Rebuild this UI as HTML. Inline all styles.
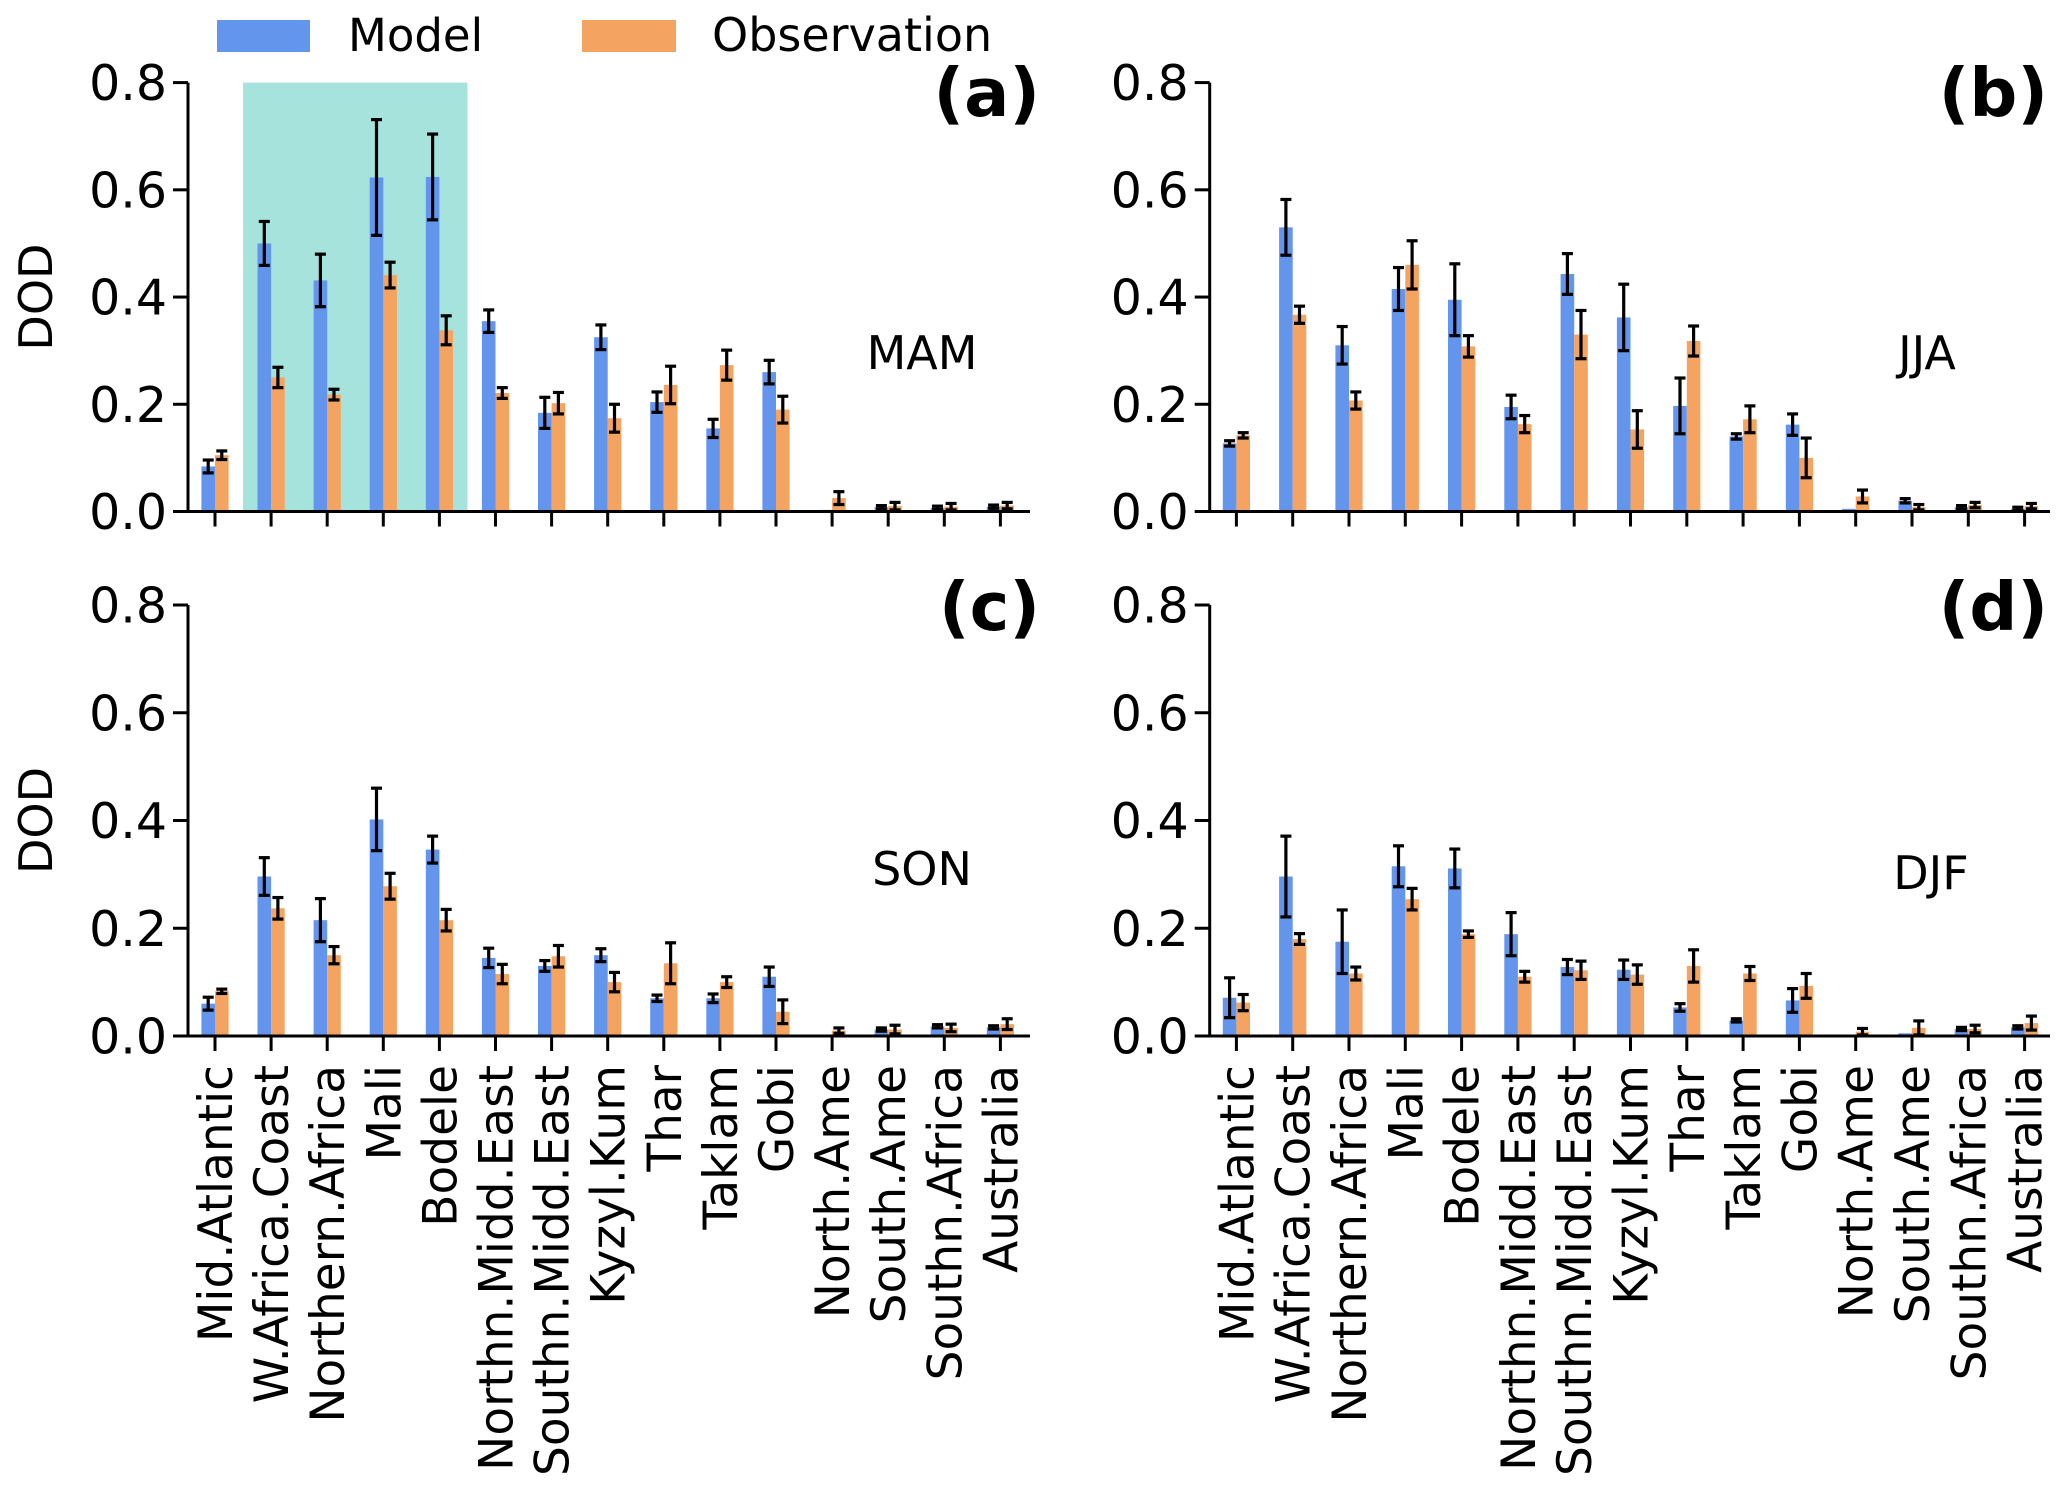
<!DOCTYPE html>
<html><head><meta charset="utf-8"><style>
html,body{margin:0;padding:0;background:#fff;}
svg{display:block;font-family:"DejaVu Sans","Liberation Sans",sans-serif;}
</style></head><body>
<svg id="chart" width="2067" height="1490" viewBox="0 0 2067 1490" xmlns="http://www.w3.org/2000/svg">
<g>
<rect x="217" y="20" width="93" height="32" fill="#6495ed"/>
<text x="348" y="51" font-size="45">Model</text>
<rect x="582" y="20" width="94" height="32" fill="#f4a460"/>
<text x="712" y="51" font-size="46">Observation</text>
</g>
</svg>
<script>
const categories = ["Mid.Atlantic","W.Africa.Coast","Northern.Africa","Mali","Bodele","Northn.Midd.East","Southn.Midd.East","Kyzyl.Kum","Thar","Taklam","Gobi","North.Ame","South.Ame","Southn.Africa","Australia"];
const yTicks = [0.0, 0.2, 0.4, 0.6, 0.8];
const yTickLabels = ["0.0","0.2","0.4","0.6","0.8"];
const seasons = ["MAM","JJA","SON","DJF"];
const panelLetters = ["(a)","(b)","(c)","(d)"];

const mamModel = [0.084,0.50,0.431,0.623,0.624,0.355,0.184,0.325,0.204,0.155,0.26,0.003,0.008,0.007,0.009];
const mamModelErr = [0.012,0.041,0.049,0.108,0.080,0.021,0.029,0.023,0.019,0.017,0.022,0,0.003,0.003,0.003];
const mamObs = [0.105,0.25,0.218,0.441,0.338,0.221,0.202,0.174,0.236,0.273,0.19,0.025,0.01,0.009,0.011];
const mamObsErr = [0.008,0.019,0.01,0.024,0.027,0.01,0.02,0.026,0.035,0.028,0.025,0.012,0.007,0.006,0.006];

const jjaModel = [0.127,0.53,0.31,0.415,0.395,0.195,0.443,0.362,0.197,0.14,0.162,0.005,0.02,0.008,0.005];
const jjaModelErr = [0.005,0.052,0.035,0.04,0.067,0.022,0.038,0.062,0.052,0.005,0.02,0,0.004,0.003,0.003];
const jjaObs = [0.142,0.367,0.207,0.46,0.308,0.163,0.33,0.153,0.318,0.172,0.1,0.028,0.008,0.012,0.01];
const jjaObsErr = [0.005,0.016,0.016,0.045,0.02,0.016,0.045,0.035,0.028,0.025,0.037,0.012,0.005,0.005,0.005];

const sonModel = [0.06,0.296,0.215,0.402,0.346,0.145,0.13,0.15,0.07,0.07,0.11,0.002,0.012,0.018,0.016];
const sonModelErr = [0.012,0.035,0.04,0.058,0.025,0.018,0.01,0.012,0.006,0.008,0.018,0,0.003,0.003,0.003];
const sonObs = [0.083,0.237,0.15,0.278,0.215,0.115,0.148,0.1,0.135,0.1,0.045,0.01,0.012,0.015,0.022];
const sonObsErr = [0.004,0.02,0.016,0.024,0.02,0.018,0.02,0.018,0.038,0.01,0.022,0.005,0.008,0.007,0.01];

const djfModel = [0.071,0.296,0.175,0.315,0.311,0.189,0.128,0.123,0.053,0.029,0.066,0.002,0.005,0.013,0.016];
const djfModelErr = [0.037,0.075,0.059,0.038,0.036,0.04,0.014,0.018,0.007,0.003,0.022,0,0,0.003,0.003];
const djfObs = [0.062,0.18,0.116,0.254,0.189,0.11,0.122,0.114,0.13,0.116,0.093,0.008,0.015,0.013,0.024];
const djfObsErr = [0.015,0.01,0.012,0.02,0.006,0.01,0.017,0.018,0.03,0.013,0.023,0.006,0.013,0.007,0.013];

const NS = "http://www.w3.org/2000/svg";
const svg = document.getElementById('chart');
function mk(tag, attrs, parent){ const e=document.createElementNS(NS,tag); for(const k in attrs) e.setAttribute(k,attrs[k]); (parent||svg).appendChild(e); return e; }

const panels = [
 {left:188, x0:215, step:56.1, right:1030, y0:511.5, y8:82.6, m:mamModel, me:mamModelErr, o:mamObs, oe:mamObsErr, lx:1040, ly:116, sx:922, sy:369, ylab:true, xlab:false, hi:true},
 {left:1209.7, x0:1236.4, step:56.3, right:2050, y0:511.5, y8:82.6, m:jjaModel, me:jjaModelErr, o:jjaObs, oe:jjaObsErr, lx:2048, ly:116, sx:1927, sy:369, ylab:false, xlab:false, hi:false},
 {left:188, x0:215, step:56.1, right:1030, y0:1036, y8:605, m:sonModel, me:sonModelErr, o:sonObs, oe:sonObsErr, lx:1040, ly:630, sx:922, sy:885, ylab:true, xlab:true, hi:false},
 {left:1209.7, x0:1236.4, step:56.3, right:2050, y0:1036, y8:605, m:djfModel, me:djfModelErr, o:djfObs, oe:djfObsErr, lx:2048, ly:630, sx:1931, sy:889, ylab:false, xlab:true, hi:false}
];
const BW = 13.6;
panels.forEach((p, pi) => {
  const g = mk('g', {});
  
  
  const y = v => p.y0 - (p.y0 - p.y8) * v / 0.8;
  const x = i => p.x0 + i * p.step;
  if (p.hi) {
    const r = mk('rect', {x:x(0.5), y:y(0.8), width:x(4.5)-x(0.5), height:y(0)-y(0.8), fill:'#a6e3dd'}, g);
    
    
  }
  categories.forEach((c, i) => {
    const b1 = mk('rect', {x:x(i)-BW, y:y(p.m[i]), width:BW, height:y(0)-y(p.m[i]), fill:'#6495ed'}, g);
    
    
    const b2 = mk('rect', {x:x(i), y:y(p.o[i]), width:BW, height:y(0)-y(p.o[i]), fill:'#f4a460'}, g);
    
    
  });
  categories.forEach((c, i) => {
    [[x(i)-BW/2, p.m[i], p.me[i]], [x(i)+BW/2, p.o[i], p.oe[i]]].forEach(([cx, v, e]) => {
      if (e <= 0) return;
      const eg = mk('g', {stroke:'#000', 'stroke-width':3.2}, g);
      
      
      mk('line', {x1:cx, x2:cx, y1:y(v-e), y2:y(v+e)}, eg);
      mk('line', {x1:cx-5.5, x2:cx+5.5, y1:y(v-e), y2:y(v-e)}, eg);
      mk('line', {x1:cx-5.5, x2:cx+5.5, y1:y(v+e), y2:y(v+e)}, eg);
    });
  });
  const ya = mk('line', {x1:p.left, x2:p.left, y1:y(0.8), y2:y(0)+1.5, stroke:'#000', 'stroke-width':3}, g);
  
  
  const xa = mk('line', {x1:p.left-1.5, x2:p.right, y1:y(0), y2:y(0), stroke:'#000', 'stroke-width':3}, g);
  
  
  yTicks.forEach((t, k) => {
    mk('line', {x1:p.left-15, x2:p.left, y1:y(t), y2:y(t), stroke:'#000', 'stroke-width':3}, g);
    const tl = mk('text', {x:p.left-21, y:y(t)+17.5, 'font-size':49, 'text-anchor':'end'}, g);
    tl.textContent = yTickLabels[k];
    
    
  });
  categories.forEach((c, i) => {
    mk('line', {x1:x(i), x2:x(i), y1:y(0), y2:y(0)+15, stroke:'#000', 'stroke-width':3}, g);
    if (p.xlab) {
      const t = mk('text', {x:0, y:0, 'font-size':47, 'text-anchor':'end', transform:`translate(${x(i)+17},${y(0)+29}) rotate(-90)`}, g);
      t.textContent = c;
      
      
    }
  });
  if (p.ylab) {
    const t = mk('text', {x:0, y:0, 'font-size':46, 'text-anchor':'middle', transform:`translate(52,${(y(0)+y(0.8))/2}) rotate(-90)`}, g);
    t.textContent = 'DOD';
    
    
  }
  const pl = mk('text', {x:p.lx, y:p.ly, 'font-size':67, 'font-weight':'bold', 'text-anchor':'end'}, g);
  pl.textContent = panelLetters[pi];
  
  
  const sl = mk('text', {x:p.sx, y:p.sy, 'font-size':46, 'text-anchor':'middle'}, g);
  sl.textContent = seasons[pi];
  
  
});
</script>
</body></html>
